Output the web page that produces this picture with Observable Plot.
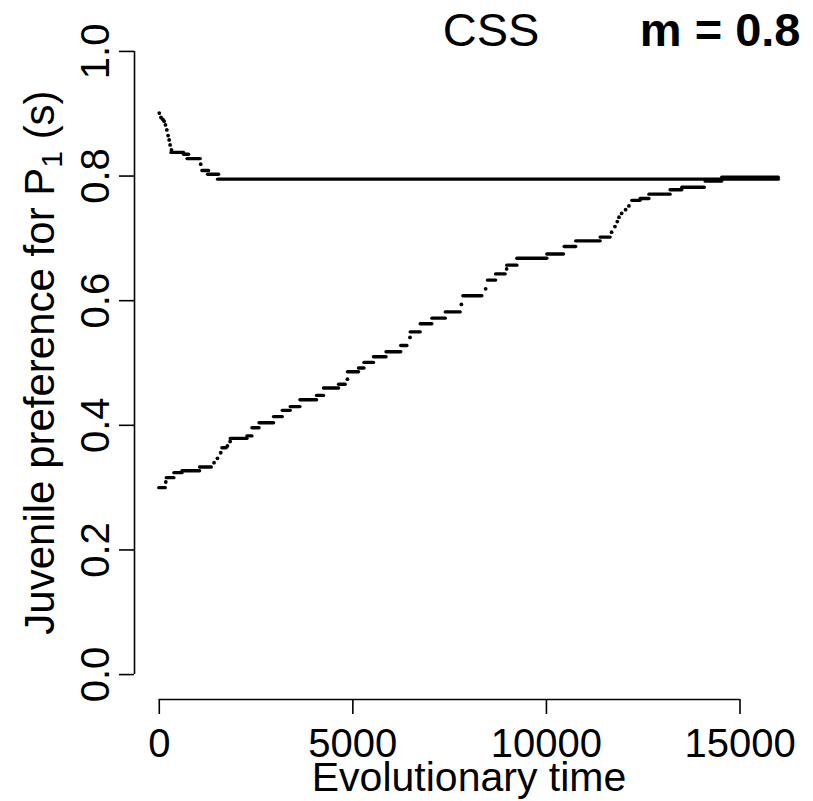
<!DOCTYPE html>
<html>
<head>
<meta charset="utf-8">
<script src="https://cdn.jsdelivr.net/npm/d3@7"></script>
<script src="https://cdn.jsdelivr.net/npm/@observablehq/plot@0.6"></script>
<style>
  html, body { margin: 0; padding: 0; background: #fff; }
  #chart { position: relative; width: 813px; height: 801px; }
</style>
</head>
<body>
<div id="chart"></div>
<script>
// ---- Data ----
// Upper trajectory (starting at s = 0.9): plateaus as [start time, end time, s]
const upperT0 = [0, 45, 90, 125, 160, 195, 228, 255, 280, 315, 315, 640, 730, 1070, 1115, 1260, 1520];
const upperT1 = [0, 45, 90, 125, 160, 195, 228, 255, 280, 315, 640, 770, 1070, 1070, 1285, 1545, 16000];
const upperS  = [0.901, 0.894, 0.891, 0.888, 0.882, 0.874, 0.865, 0.858, 0.850, 0.842, 0.838, 0.835, 0.828, 0.819, 0.809, 0.803, 0.795];

// Lower trajectory (starting at s = 0.3)
const lowerT0 = [0, 168, 194, 390, 600, 1054, 1415, 1502, 1588, 1631, 1760, 1830, 1846, 2277, 2406, 2590, 2964, 3190, 3395, 3645,
                 4075, 4255, 4643, 4859, 4875, 5159, 5300, 5546, 5870, 6250, 6476, 6494, 6752, 7054, 7400, 7803, 7855, 8430, 8490, 8700,
                 8972, 8990, 9249, 10023, 10470, 10770, 11400, 11684, 11770, 11830, 11873, 11942, 12045, 12131, 12218, 12432, 12660, 13207, 13509, 14111,
                 14541];
const lowerT1 = [168, 168, 390, 600, 1054, 1356, 1415, 1502, 1588, 1740, 1760, 1830, 2277, 2406, 2590, 2964, 3190, 3395, 3645, 4075,
                 4255, 4643, 4815, 4859, 5159, 5300, 5546, 5870, 6250, 6409, 6476, 6752, 7054, 7400, 7785, 7803, 8345, 8430, 8700, 8946,
                 8972, 9249, 10023, 10452, 10770, 11400, 11658, 11684, 11770, 11830, 11873, 11942, 12045, 12131, 12432, 12660, 13207, 13509, 14090, 14541,
                 16000];
const lowerS  = [0.300, 0.309, 0.316, 0.324, 0.327, 0.333, 0.340, 0.347, 0.356, 0.364, 0.367, 0.374, 0.379, 0.383, 0.396, 0.404, 0.414, 0.424, 0.430, 0.441,
                 0.448, 0.460, 0.466, 0.474, 0.486, 0.492, 0.501, 0.510, 0.518, 0.528, 0.541, 0.550, 0.563, 0.572, 0.582, 0.594, 0.608, 0.619, 0.633, 0.643,
                 0.651, 0.657, 0.668, 0.675, 0.687, 0.696, 0.702, 0.710, 0.719, 0.727, 0.734, 0.740, 0.746, 0.752, 0.761, 0.764, 0.771, 0.778, 0.782, 0.792,
                 0.798];

// Axes / text
const xTicks = [0, 5000, 10000, 15000];
const yTicks = [0, 0.2, 0.4, 0.6, 0.8, 1.0];
const xDomain = [-640, 16640];
const yDomain = [-0.04, 1.04];
const xTitle = "Evolutionary time";
const yTitleMain = "Juvenile preference for P";
const yTitleSub = "1";
const yTitleEnd = " (s)";
const titleLeft = "CSS";
const titleRight = "m = 0.8";

// ---- Build rows ----
const toRows = (t0, t1, s, series) => t0.map((d, i) => ({series, t0: d, t1: t1[i], s: s[i]}));
const rows = [...toRows(upperT0, upperT1, upperS, "upper"), ...toRows(lowerT0, lowerT1, lowerS, "lower")];
const segs = rows.filter(d => d.t1 > d.t0);
const pts = rows.filter(d => d.t1 === d.t0);

const W = 813, H = 801;
const mL = 134, mR = 10, mT = 26, mB = 102;
const FONT = "Liberation Sans, Arial, Helvetica, sans-serif";
const fmtY = d => d.toFixed(1);

const plot = Plot.plot({
  width: W,
  height: H,
  marginLeft: mL,
  marginRight: mR,
  marginTop: mT,
  marginBottom: mB,
  style: {fontFamily: FONT, background: "#fff", color: "#000", overflow: "visible"},
  x: {domain: xDomain, axis: null},
  y: {domain: yDomain, axis: null},
  marks: [
    // axis lines (R style: span first to last tick)
    Plot.ruleY([yDomain[0]], {x1: xTicks[0], x2: xTicks[xTicks.length - 1], stroke: "#000", strokeWidth: 1.6}),
    Plot.ruleX([xDomain[0]], {y1: yTicks[0], y2: yTicks[yTicks.length - 1], stroke: "#000", strokeWidth: 1.6}),
    // ticks
    Plot.axisX(xTicks, {anchor: "bottom", tickSize: 15, tickFormat: () => "", stroke: "#000", strokeWidth: 1.6, label: null}),
    Plot.axisY(yTicks, {anchor: "left", tickSize: 15, tickFormat: () => "", stroke: "#000", strokeWidth: 1.6, label: null}),
    // tick labels
    Plot.text(xTicks, {x: d => d, frameAnchor: "bottom", lineAnchor: "top", dy: 29, fontSize: 40, fill: "#000", text: d => String(d)}),
    Plot.text(yTicks, {y: d => d, frameAnchor: "left", lineAnchor: "bottom", textAnchor: "middle", rotate: -90, dx: -26, fontSize: 40, fill: "#000", text: fmtY}),
    // x title
    Plot.text([xTitle], {frameAnchor: "bottom", lineAnchor: "bottom", dy: 91, fontSize: 41, fill: "#000", text: d => d}),
    // titles
    Plot.text([titleLeft], {frameAnchor: "top", lineAnchor: "bottom", dx: 22, dy: 19, fontSize: 47, fill: "#000", text: d => d}),
    Plot.text([titleRight], {frameAnchor: "top-right", textAnchor: "end", lineAnchor: "bottom", dx: -3, dy: 19, fontSize: 47, fontWeight: "bold", fill: "#000", text: d => d}),
    // data
    Plot.ruleY(segs, {y: "s", x1: "t0", x2: "t1", stroke: "#000", strokeWidth: 3.4, strokeLinecap: "round"}),
    Plot.dot(pts, {x: "t0", y: "s", r: 1.9, fill: "#000", stroke: "none"})
  ]
});

// y-axis title with subscript
const svg = d3.select(plot);
const yTitle = svg.append("text")
  .attr("transform", `translate(${mL - 80},${mT + (H - mT - mB) / 2}) rotate(-90)`)
  .attr("text-anchor", "middle")
  .attr("font-family", FONT)
  .attr("font-size", 42)
  .attr("fill", "#000");
yTitle.append("tspan").text(yTitleMain);
yTitle.append("tspan").attr("font-size", 30).attr("dy", "0.25em").text(yTitleSub);
yTitle.append("tspan").attr("dy", "-0.18em").text(yTitleEnd);

document.getElementById("chart").appendChild(plot);
</script>
</body>
</html>
